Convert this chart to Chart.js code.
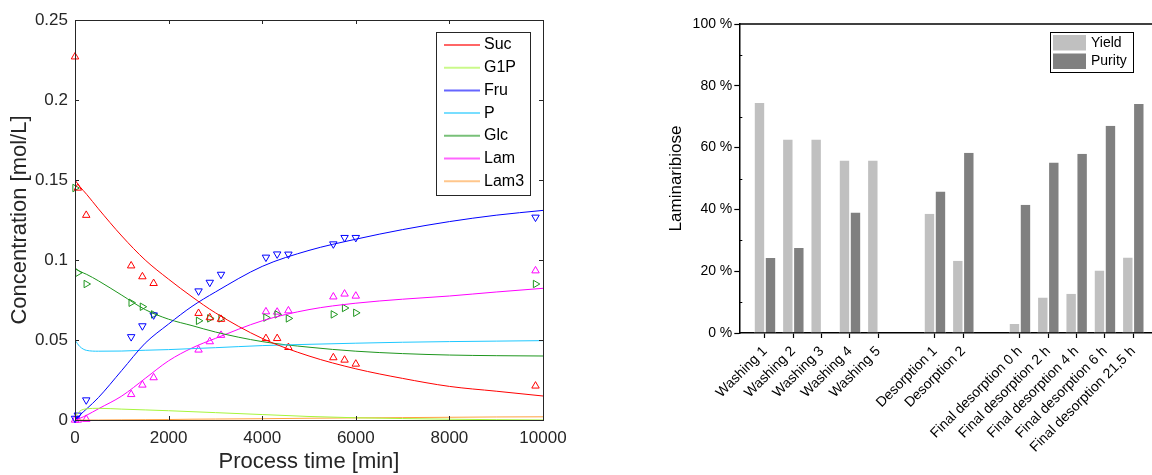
<!DOCTYPE html>
<html>
<head>
<meta charset="utf-8">
<script src="https://cdn.jsdelivr.net/npm/chart.js@4.4.0/dist/chart.umd.min.js"></script>
<style>
  body { margin: 0; background: #fff; width: 1152px; height: 475px; position: relative; overflow: hidden; }
  canvas { position: absolute; top: 0; }
  #kinChart { left: 0; }
  #laminChart { left: 640px; }
</style>
</head>
<body>
<canvas id="kinChart" width="600" height="475"></canvas>
<canvas id="laminChart" width="512" height="475"></canvas>
<script>
// ---- left panel: measured concentrations [mol/L] vs process time [min]
const sampleTimes = [0, 60, 240, 1200, 1440, 1680, 2640, 2880, 3120, 4080, 4320, 4560, 5520, 5760, 6000, 9840];
const sucMeasured = [0.227, 0.145, 0.128, 0.0964, 0.0896, 0.0854, 0.0667, 0.064, 0.063, 0.051, 0.051, 0.0454, 0.039, 0.0375, 0.035, 0.0213];
const fruMeasured = [0.001, 0.003, 0.0125, 0.052, 0.0588, 0.0656, 0.0806, 0.086, 0.091, 0.1017, 0.1037, 0.1036, 0.110, 0.114, 0.114, 0.1267];
const glcMeasured = [0.145, 0.092, 0.085, 0.0733, 0.0708, 0.066, 0.062, 0.0635, 0.0635, 0.064, 0.066, 0.0635, 0.066, 0.070, 0.067, 0.085];
const lamMeasured = [0, 0, 0.0005, 0.016, 0.0219, 0.0265, 0.0438, 0.049, 0.053, 0.0677, 0.0675, 0.0683, 0.077, 0.0788, 0.0775, 0.0933];

// model curves
const modelTimes = [0, 100, 250, 500, 1000, 1500, 2000, 2500, 3000, 4000, 5000, 6000, 7000, 8000, 9000, 10000];
const sucModel  = [0.150, 0.146, 0.141, 0.132, 0.115, 0.100, 0.088, 0.077, 0.067, 0.051, 0.040, 0.032, 0.026, 0.021, 0.018, 0.015];
const g1pModel  = [0.002, 0.0055, 0.007, 0.0073, 0.0068, 0.0063, 0.0058, 0.0052, 0.0046, 0.0034, 0.0022, 0.0014, 0.0009, 0.0005, 0.0002, 0];
const fruModel  = [0, 0.003, 0.007, 0.014, 0.031, 0.048, 0.060, 0.071, 0.080, 0.096, 0.106, 0.113, 0.119, 0.124, 0.128, 0.131];
const pModel    = [0.050, 0.046, 0.0435, 0.043, 0.0431, 0.0436, 0.044, 0.0446, 0.0452, 0.0465, 0.0473, 0.048, 0.0486, 0.049, 0.0493, 0.0496];
const glcModel  = [0.095, 0.093, 0.091, 0.087, 0.078, 0.069, 0.063, 0.059, 0.055, 0.049, 0.0455, 0.043, 0.0415, 0.0406, 0.0402, 0.040];
const lamModel  = [0, 0.001, 0.003, 0.007, 0.015, 0.026, 0.037, 0.045, 0.051, 0.062, 0.069, 0.073, 0.0755, 0.0775, 0.080, 0.0823];
const lam3Model = [0, 0, 0, 0, 0.0001, 0.0002, 0.0003, 0.0005, 0.0006, 0.0008, 0.0011, 0.0013, 0.0015, 0.0017, 0.0019, 0.002];

const timeTicks = [0, 2000, 4000, 6000, 8000, 10000];
const concTicks = [0, 0.05, 0.1, 0.15, 0.2, 0.25];

// ---- right panel: laminaribiose yield / purity per step [%]
const stepNames = ['Washing 1', 'Washing 2', 'Washing 3', 'Washing 4', 'Washing 5',
  'Desorption 1', 'Desorption 2',
  'Final desorption 0 h', 'Final desorption 2 h', 'Final desorption 4 h', 'Final desorption 6 h', 'Final desorption 21,5 h'];
const stepSlots = [0, 1, 2, 3, 4, 6, 7, 9, 10, 11, 12, 13];
const yieldPct  = [74.4, 62.6, 62.6, 55.8, 55.8, 38.6, 23.4, 2.9, 11.5, 12.7, 20.2, 24.4];
const purityPct = [24.3, 27.5, null, 39.0, null, 45.8, 58.3, 41.5, 55.2, 58.0, 67.1, 74.1];
const pctTicks = [0, 20, 40, 60, 80, 100];


const FONT = "'Liberation Sans', Arial, sans-serif";

function pairs(xs, ys) {
  return xs.map((x, i) => ({ x: x, y: ys[i] }));
}

function curve(label, color, values) {
  return {
    type: 'line', label: label, data: pairs(modelTimes, values),
    borderColor: color, borderWidth: 1, pointRadius: 0,
    cubicInterpolationMode: 'monotone', showLine: true, isCurve: true
  };
}

function markers(color, values, rotation) {
  return {
    type: 'scatter', data: pairs(sampleTimes, values),
    borderColor: color, backgroundColor: 'rgba(0,0,0,0)', borderWidth: 1,
    pointStyle: 'triangle', pointRotation: rotation, pointRadius: 4.3,
    clip: false
  };
}

function fmtConc(v) {
  return String(Number(v.toFixed(2)));
}

// frame with inward ticks (matlab style)
const kinFrame = {
  id: 'kinFrame',
  afterDatasetsDraw(chart) {
    const { ctx, chartArea: a, scales: { x, y } } = chart;
    ctx.save();
    ctx.strokeStyle = '#262626';
    ctx.lineWidth = 1;
    ctx.strokeRect(Math.round(a.left) + 0.5, Math.round(a.top) + 0.5,
      Math.round(a.right - a.left), Math.round(a.bottom - a.top));
    ctx.beginPath();
    timeTicks.forEach(t => {
      const px = Math.round(x.getPixelForValue(t)) + 0.5;
      ctx.moveTo(px, a.bottom); ctx.lineTo(px, a.bottom - 4);
      ctx.moveTo(px, a.top); ctx.lineTo(px, a.top + 4);
    });
    concTicks.forEach(c => {
      const py = Math.round(y.getPixelForValue(c)) + 0.5;
      ctx.moveTo(a.left, py); ctx.lineTo(a.left + 4, py);
      ctx.moveTo(a.right, py); ctx.lineTo(a.right - 4, py);
    });
    ctx.stroke();
    ctx.restore();
  },
  afterDraw(chart) {
    const { ctx, chartArea: a } = chart;
    const items = chart.data.datasets.filter(d => d.isCurve);
    const bx = a.right - 107, by = a.top + 12, bw = 94, bh = 163;
    ctx.save();
    ctx.fillStyle = '#fff';
    ctx.fillRect(bx, by, bw, bh);
    ctx.strokeStyle = '#262626';
    ctx.lineWidth = 1;
    ctx.strokeRect(bx + 0.5, by + 0.5, bw, bh);
    ctx.font = '16px ' + FONT;
    ctx.textBaseline = 'middle';
    items.forEach((d, i) => {
      const ry = by + 13 + i * 22.7;
      ctx.globalAlpha = 0.6;
      ctx.strokeStyle = d.borderColor;
      ctx.lineWidth = 2;
      ctx.beginPath();
      ctx.moveTo(bx + 8, ry); ctx.lineTo(bx + 44, ry);
      ctx.stroke();
      ctx.globalAlpha = 1;
      ctx.fillStyle = '#000';
      ctx.fillText(d.label, bx + 48, ry);
    });
    ctx.restore();
  }
};

new Chart(document.getElementById('kinChart'), {
  type: 'scatter',
  data: {
    datasets: [
      curve('Suc', '#ff0000', sucModel),
      curve('G1P', '#a6f53c', g1pModel),
      curve('Fru', '#0000ff', fruModel),
      curve('P', '#1ec8ff', pModel),
      curve('Glc', '#1e961e', glcModel),
      curve('Lam', '#ff00ff', lamModel),
      curve('Lam3', '#ffa040', lam3Model),
      markers('#ff0000', sucMeasured, 0),
      markers('#0000ff', fruMeasured, 180),
      markers('#1e961e', glcMeasured, 90),
      markers('#ff00ff', lamMeasured, 0)
    ]
  },
  options: {
    responsive: false,
    animation: false,
    layout: { padding: { top: 20, right: 57, left: 0, bottom: 0 } },
    plugins: { legend: { display: false }, tooltip: { enabled: false } },
    scales: {
      x: {
        type: 'linear', min: 0, max: 10000,
        afterBuildTicks: s => { s.ticks = timeTicks.map(v => ({ value: v })); },
        afterFit: s => { s.height = 55; },
        grid: { display: false, tickLength: 0 }, border: { display: false },
        ticks: { font: { family: FONT, size: 17 }, color: '#262626', padding: 8, maxRotation: 0, callback: v => String(v) },
        title: { display: true, text: 'Process time [min]', font: { family: FONT, size: 22 }, color: '#262626', padding: { top: 0, bottom: 0 } }
      },
      y: {
        type: 'linear', min: 0, max: 0.25,
        afterBuildTicks: s => { s.ticks = concTicks.map(v => ({ value: v })); },
        afterFit: s => { s.width = 75; },
        grid: { display: false, tickLength: 0 }, border: { display: false },
        ticks: { font: { family: FONT, size: 17 }, color: '#262626', padding: 7, callback: v => fmtConc(v) },
        title: { display: true, text: 'Concentration [mol/L]', font: { family: FONT, size: 22 }, color: '#262626', padding: { top: 7, bottom: 0 } }
      }
    }
  },
  plugins: [kinFrame]
});

// ---- bar panel
const barFrame = {
  id: 'barFrame',
  afterDatasetsDraw(chart) {
    const { ctx, chartArea: a, scales: { y } } = chart;
    ctx.save();
    ctx.strokeStyle = '#000';
    ctx.lineWidth = 1.5;
    ctx.beginPath();
    ctx.moveTo(a.left, a.top); ctx.lineTo(a.right, a.top);
    ctx.stroke();
    ctx.lineWidth = 1;
    ctx.beginPath();
    [10, 30, 50, 70, 90].forEach(v => {
      const py = Math.round(y.getPixelForValue(v)) + 0.5;
      ctx.moveTo(a.left, py); ctx.lineTo(a.left + 3, py);
    });
    ctx.stroke();
    ctx.restore();
  },
  afterDraw(chart) {
    const { ctx, chartArea: a } = chart;
    const sets = chart.data.datasets;
    const bx = a.right - 102, by = a.top + 8, bw = 83, bh = 40;
    ctx.save();
    ctx.fillStyle = '#fff';
    ctx.fillRect(bx, by, bw, bh);
    ctx.strokeStyle = '#000';
    ctx.lineWidth = 1;
    ctx.strokeRect(bx + 0.5, by + 0.5, bw, bh);
    ctx.font = '14px ' + FONT;
    ctx.textBaseline = 'middle';
    sets.forEach((d, i) => {
      const ry = by + 3 + i * 18.5;
      ctx.fillStyle = d.backgroundColor;
      ctx.fillRect(bx + 3, ry, 33, 15.5);
      ctx.fillStyle = '#000';
      ctx.fillText(d.label, bx + 41, ry + 8);
    });
    ctx.restore();
  }
};

new Chart(document.getElementById('laminChart'), {
  type: 'bar',
  data: {
    datasets: [
      { label: 'Yield', data: pairs(stepSlots, yieldPct), backgroundColor: '#c0c0c0' },
      { label: 'Purity', data: pairs(stepSlots, purityPct), backgroundColor: '#808080' }
    ]
  },
  options: {
    responsive: false,
    animation: false,
    layout: { padding: { top: 24, right: 0, left: 0, bottom: 0 } },
    datasets: {
      bar: {
        barThickness: 11, inflateAmount: 0,
        borderColor: '#fff', borderWidth: { left: 0.8, right: 0.8, top: 0, bottom: 0 }
      }
    },
    plugins: { legend: { display: false }, tooltip: { enabled: false } },
    scales: {
      x: {
        type: 'linear', min: -0.907, max: 13.66, offset: false,
        afterBuildTicks: s => { s.ticks = stepSlots.map(v => ({ value: v })); },
        afterFit: s => { s.height = 142; },
        grid: { display: true, drawOnChartArea: false, offset: false, tickLength: 5, color: '#000', tickWidth: 1.2 },
        border: { display: true, color: '#000', width: 1.5 },
        ticks: {
          font: { family: FONT, size: 14 }, color: '#000', padding: 5,
          autoSkip: false, minRotation: 45, maxRotation: 45,
          callback: v => stepNames[stepSlots.indexOf(v)]
        }
      },
      y: {
        type: 'linear', min: 0, max: 100,
        afterBuildTicks: s => { s.ticks = pctTicks.map(v => ({ value: v })); },
        afterFit: s => { s.width = 99.3; },
        grid: { display: true, drawOnChartArea: false, tickLength: 5, color: '#000', tickWidth: 1.2 },
        border: { display: true, color: '#000', width: 1.5 },
        ticks: { font: { family: FONT, size: 14 }, color: '#000', padding: 2, callback: v => v + ' %' },
        title: { display: true, text: 'Laminaribiose', font: { family: FONT, size: 17 }, color: '#000', padding: { top: 26, bottom: 0 } }
      }
    }
  },
  plugins: [barFrame]
});
</script>
</body>
</html>
